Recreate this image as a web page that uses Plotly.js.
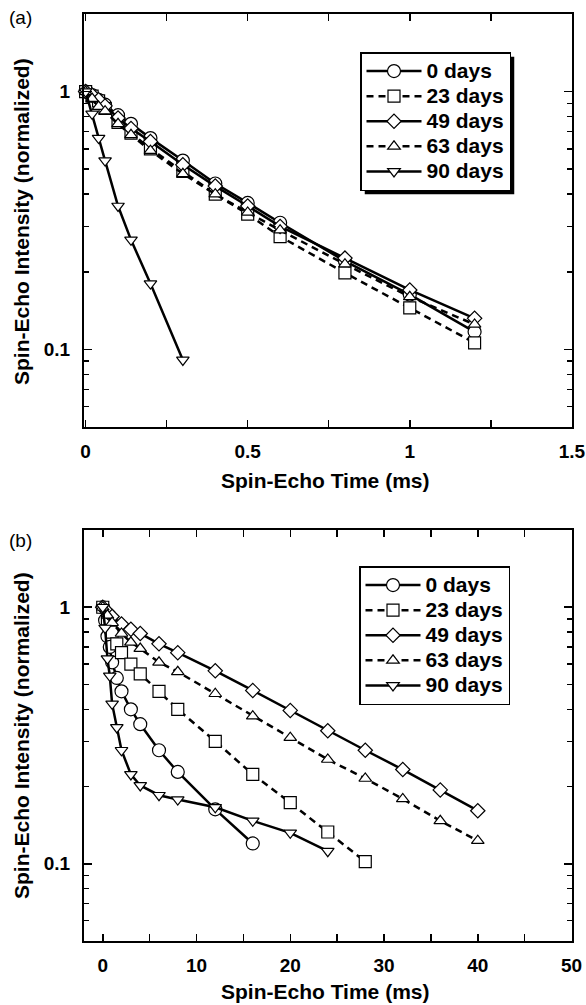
<!DOCTYPE html>
<html><head><meta charset="utf-8">
<script src="https://cdn.plot.ly/plotly-3.0.1.min.js"></script>
<style>html,body{margin:0;padding:0;background:#fff}#chart{width:586px;height:1005px}</style>
</head><body><div id="chart"></div>
<script>
// ---- data (panel a, ms) ----
const seriesNames = ['0 days', '23 days', '49 days', '63 days', '90 days'];
const xA = [0, 0.02, 0.04, 0.06, 0.1, 0.14, 0.2, 0.3, 0.4, 0.5, 0.6, 0.8, 1.0, 1.2];
const yA0  = [1, 0.97, 0.93, 0.89, 0.81, 0.75, 0.66, 0.54, 0.44, 0.37, 0.31, 0.22, 0.163, 0.117];
const yA23 = [1, 0.96, 0.92, 0.86, 0.76, 0.69, 0.60, 0.49, 0.40, 0.335, 0.274, 0.198, 0.145, 0.106];
const yA49 = [1, 0.97, 0.93, 0.88, 0.79, 0.72, 0.64, 0.52, 0.43, 0.36, 0.30, 0.226, 0.17, 0.132];
const yA63 = [1, 0.94, 0.875, 0.84, 0.75, 0.68, 0.59, 0.48, 0.40, 0.34, 0.29, 0.214, 0.16, 0.125];
const xA90 = [0, 0.02, 0.04, 0.06, 0.1, 0.14, 0.2, 0.3];
const yA90 = [1, 0.82, 0.66, 0.54, 0.36, 0.266, 0.18, 0.091];
// ---- data (panel b, ms) ----
const xB0  = [0, 0.25, 0.5, 0.75, 1, 1.5, 2, 3, 4, 6, 8, 12, 16];
const yB0  = [1, 0.89, 0.77, 0.70, 0.61, 0.53, 0.47, 0.40, 0.35, 0.277, 0.228, 0.163, 0.12];
const xB23 = [0, 0.5, 1, 1.5, 2, 3, 4, 6, 8, 12, 16, 20, 24, 28];
const yB23 = [1, 0.90, 0.80, 0.72, 0.665, 0.60, 0.55, 0.47, 0.40, 0.30, 0.223, 0.173, 0.133, 0.102];
const xB49 = [0, 0.5, 1, 2, 3, 4, 6, 8, 12, 16, 20, 24, 28, 32, 36, 40];
const yB49 = [1, 0.96, 0.92, 0.86, 0.82, 0.79, 0.72, 0.665, 0.565, 0.474, 0.396, 0.33, 0.277, 0.233, 0.194, 0.161];
const xB63 = [0, 0.5, 1, 2, 3, 4, 6, 8, 12, 16, 20, 24, 28, 32, 36, 40];
const yB63 = [1, 0.93, 0.87, 0.79, 0.73, 0.69, 0.61, 0.56, 0.46, 0.376, 0.31, 0.255, 0.215, 0.179, 0.147, 0.123];
const xB90 = [0, 0.25, 0.5, 0.75, 1, 1.5, 2, 3, 4, 6, 8, 12, 16, 20, 24];
const yB90 = [1, 0.83, 0.63, 0.54, 0.42, 0.34, 0.277, 0.223, 0.202, 0.185, 0.178, 0.166, 0.147, 0.132, 0.112];
const xTickA = [0, 0.5, 1, 1.5];
const xTickB = [0, 10, 20, 30, 40, 50];

// ---- styling ----
const W = 586, H = 1005;
const FONT = 'Liberation Sans, Arial, sans-serif';
const symbols = ['circle', 'square', 'diamond', 'triangle-up', 'triangle-down'];
const sizes = [13, 12, 11, 11, 11];
const dashes = ['solid', '7px,5px', 'solid', '7px,5px', 'solid'];

function tr(i, x, y, xa, ya, leg) {
  return {
    x: x, y: y, name: '<span style="font-size:21px">' + seriesNames[i] + '</span>',
    type: 'scatter', mode: 'lines+markers',
    xaxis: xa, yaxis: ya, legend: leg,
    line: {color: '#000', width: 2.5, dash: dashes[i]},
    marker: {symbol: symbols[i], size: sizes[i], color: '#fff', line: {color: '#000', width: 1.2}},
    cliponaxis: false
  };
}
const data = [
  tr(0, xA, yA0, 'x', 'y', 'legend'),
  tr(1, xA, yA23, 'x', 'y', 'legend'),
  tr(2, xA, yA49, 'x', 'y', 'legend'),
  tr(3, xA, yA63, 'x', 'y', 'legend'),
  tr(4, xA90, yA90, 'x', 'y', 'legend'),
  tr(0, xB0, yB0, 'x2', 'y2', 'legend2'),
  tr(1, xB23, yB23, 'x2', 'y2', 'legend2'),
  tr(2, xB49, yB49, 'x2', 'y2', 'legend2'),
  tr(3, xB63, yB63, 'x2', 'y2', 'legend2'),
  tr(4, xB90, yB90, 'x2', 'y2', 'legend2')
];

const px = v => v / W, py = v => 1 - v / H;
const tickFont = {family: FONT, size: 19, color: '#000', weight: 'bold'};
function xaxis(dom, range, vals, minorStep, anchor) {
  return {domain: dom, range: range, anchor: anchor, tickmode: 'array', tickvals: vals,
    ticks: 'inside', ticklen: 7, tickwidth: 1.5, tickcolor: '#000',
    minor: {dtick: minorStep, ticks: 'inside', ticklen: 7, tickwidth: 1.5, tickcolor: '#000', showgrid: false},
    showline: true, linewidth: 2, linecolor: '#000', mirror: 'ticks',
    showgrid: false, zeroline: false, tickfont: tickFont, ticklabelstandoff: 6};
}
function yaxis(dom, anchor) {
  return {domain: dom, type: 'log', range: [Math.log10(0.05), Math.log10(2)], anchor: anchor,
    tickmode: 'linear', tick0: 0, dtick: 1,
    ticks: 'inside', ticklen: 8, tickwidth: 1.5, tickcolor: '#000',
    minor: {dtick: 'D1', ticks: 'inside', ticklen: 5, tickwidth: 1.5, tickcolor: '#000', showgrid: false},
    showline: true, linewidth: 2, linecolor: '#000', mirror: 'ticks',
    showgrid: false, zeroline: false, tickfont: tickFont, ticklabelstandoff: 8};
}
const xDom = [px(84), px(572)];
const legendCommon = {
  xanchor: 'left', yanchor: 'top', bgcolor: '#fff', bordercolor: '#000', borderwidth: 1.5,
  font: {family: FONT, size: 17, color: '#000', weight: 'bold'}, itemwidth: 55, tracegroupgap: 0
};
const titleFont = {family: FONT, size: 21, color: '#000', weight: 'bold'};
const labelFont = {family: FONT, size: 19, color: '#000'};
const layout = {
  width: W, height: H, margin: {l: 0, r: 0, t: 0, b: 0},
  paper_bgcolor: '#fff', plot_bgcolor: '#fff', showlegend: true,
  xaxis: xaxis(xDom, [-0.005, 1.5005], xTickA, 0.25, 'y'),
  yaxis: yaxis([py(427), py(14)], 'x'),
  xaxis2: xaxis(xDom, [-2, 50.05], xTickB, 5, 'y2'),
  yaxis2: yaxis([py(941), py(530)], 'x2'),
  legend: Object.assign({x: px(360), y: py(52)}, legendCommon),
  legend2: Object.assign({x: px(359), y: py(566)}, legendCommon),
  shapes: [],
  annotations: [
    {text: '(a)', x: px(20), y: py(18), xref: 'paper', yref: 'paper', showarrow: false, xanchor: 'center', yanchor: 'middle', font: labelFont},
    {text: '(b)', x: px(20), y: py(540), xref: 'paper', yref: 'paper', showarrow: false, xanchor: 'center', yanchor: 'middle', font: labelFont},
    {text: 'Spin-Echo Time (ms)', x: px(325), y: py(480), xref: 'paper', yref: 'paper', showarrow: false, xanchor: 'center', yanchor: 'middle', font: titleFont},
    {text: 'Spin-Echo Time (ms)', x: px(325), y: py(991), xref: 'paper', yref: 'paper', showarrow: false, xanchor: 'center', yanchor: 'middle', font: titleFont},
    {text: 'Spin-Echo Intensity (normalized)', x: px(21), y: py(222), xref: 'paper', yref: 'paper', showarrow: false, textangle: -90, xanchor: 'center', yanchor: 'middle', font: titleFont},
    {text: 'Spin-Echo Intensity (normalized)', x: px(21), y: py(736), xref: 'paper', yref: 'paper', showarrow: false, textangle: -90, xanchor: 'center', yanchor: 'middle', font: titleFont}
  ]
};
Plotly.newPlot('chart', data, layout, {displayModeBar: false, staticPlot: true}).then(gd => {
  // drop shadows behind the two legend boxes, placed from the rendered legend boxes
  const root = gd.getBoundingClientRect();
  const shapes = [];
  gd.querySelectorAll('g.legend rect.bg').forEach(r => {
    const b = r.getBoundingClientRect();
    const off = 4;
    shapes.push({type: 'rect', xref: 'paper', yref: 'paper', layer: 'above',
      x0: px(b.left - root.left + off), x1: px(b.right - root.left + off),
      y0: py(b.bottom - root.top + off), y1: py(b.top - root.top + off),
      fillcolor: '#000', line: {width: 0}});
  });
  return Plotly.relayout(gd, {shapes: shapes});
});
</script></body></html>
